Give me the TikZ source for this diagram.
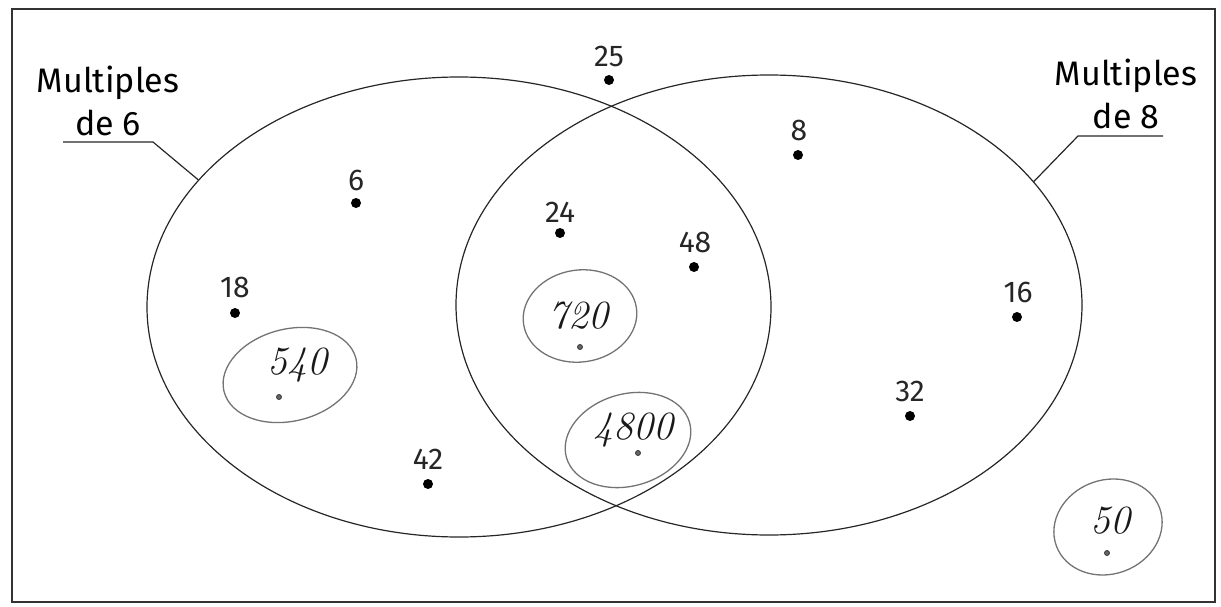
\documentclass[tikz,border=0pt]{standalone}
\usepackage{fontspec}
\setmainfont{Fira Sans}
\newfontfamily\handfont{Latin Modern Roman}
\usetikzlibrary{shapes.geometric}
\begin{document}
\begin{tikzpicture}[x=1pt,y=-1pt,
  setline/.style={draw=black!85, line width=1.2pt},
  frameline/.style={draw=black!80, line width=1.5pt},
  dotmark/.style={circle, fill=black, inner sep=0pt, minimum size=10pt},
  smalldot/.style={circle, draw=black!80, fill=black!60, line width=0.8pt, inner sep=0pt, minimum size=5pt},
  numlabel/.style={anchor=base, inner sep=0pt, font=\fontsize{30}{32}\selectfont, text=black!85},
  setlabel/.style={anchor=south, inner sep=0pt, align=center, font=\fontsize{34}{43}\selectfont},
  loopline/.style={ellipse, draw=black!55, line width=1.3pt, inner sep=0pt},
  handtext/.style={inner sep=0pt, font=\handfont\itshape\fontsize{40}{42}\selectfont, text=black!90}
]
\useasboundingbox (0,0) rectangle (1221,607);
\draw[frameline] (12,9) rectangle (1215,602);

% the two sets
\node[ellipse, setline, minimum width=624pt, minimum height=460pt, inner sep=0pt] (A) at (459,307) {};
\node[ellipse, setline, minimum width=626pt, minimum height=460pt, inner sep=0pt] (B) at (769,305) {};

% set labels and leaders
\node[setlabel] (LA) at (108,136) {Multiples\\de 6};
\node[setlabel] (LB) at (1126,129) {Multiples\\de 8};
\coordinate (a1) at (153,142);
\coordinate (a2) at (63,142);
\coordinate (b1) at (1078,136);
\coordinate (b2) at (1163,136);
\draw[setline] (A.154.8) -- (a1) -- (a2);
\draw[setline] (B.25.2) -- (b1) -- (b2);

% printed numbers
\node[numlabel] (t25) at (609,67) {25};
\node[dotmark] (d25) at (609,80) {};
\node[numlabel] (t8) at (799,141) {8};
\node[dotmark] (d8) at (798,155) {};
\node[numlabel] (t6) at (356,190) {6};
\node[dotmark] (d6) at (356,203) {};
\node[numlabel] (t24) at (560,222) {24};
\node[dotmark] (d24) at (560,233) {};
\node[numlabel] (t48) at (695,252) {48};
\node[dotmark] (d48) at (694,267) {};
\node[numlabel] (t18) at (235,297) {18};
\node[dotmark] (d18) at (235,313) {};
\node[numlabel] (t42) at (428,469) {42};
\node[dotmark] (d42) at (428,484) {};
\node[numlabel] (t16) at (1018,302) {16};
\node[dotmark] (d16) at (1017,317) {};
\node[numlabel] (t32) at (910,401) {32};
\node[dotmark] (d32) at (910,416) {};

% handwritten additions
\node[loopline, minimum width=136pt, minimum height=92pt, rotate=14] (l540) at (290,375) {};
\node[handtext] (h540) at (297,365) {540};
\node[smalldot] (s540) at (279,397) {};

\node[loopline, minimum width=114pt, minimum height=92pt, rotate=8] (l720) at (580,316) {};
\node[handtext] (h720) at (578,316) {720};
\node[smalldot] (s720) at (580,347) {};

\node[loopline, minimum width=128pt, minimum height=92pt, rotate=16] (l4800) at (628,440) {};
\node[handtext] (h4800) at (633,430) {4800};
\node[smalldot] (s4800) at (638,453) {};

\node[loopline, minimum width=110pt, minimum height=94pt, rotate=20] (l50) at (1108,527) {};
\node[handtext] (h50) at (1110,521) {50};
\node[smalldot] (s50) at (1107,553) {};
\end{tikzpicture}
\end{document}
